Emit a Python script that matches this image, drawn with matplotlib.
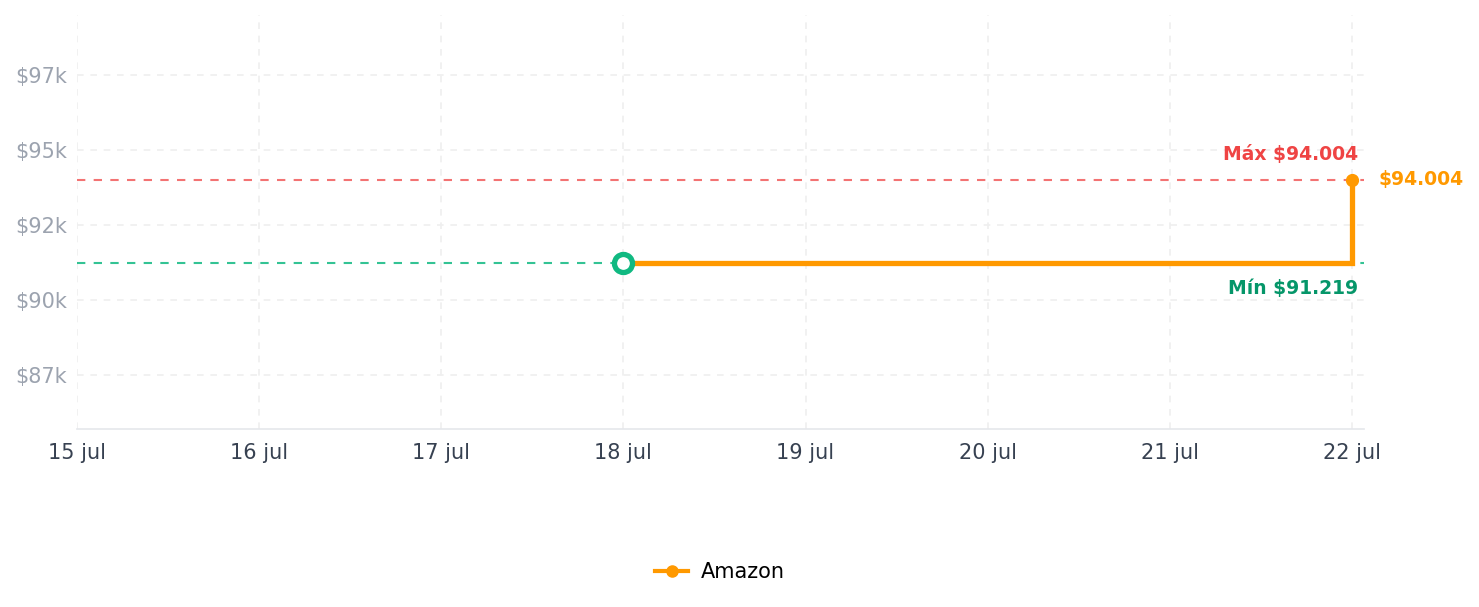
import matplotlib
matplotlib.use("Agg")
import matplotlib.pyplot as plt
import matplotlib.dates as mdates
import numpy as np
from datetime import datetime, timedelta

# Data
dates = [datetime(2024, 7, 18), datetime(2024, 7, 22)]
prices = [91219, 94004]
series_name = "Amazon"
max_price = 94004
min_price = 91219
y_ticks = [87500, 90000, 92500, 95000, 97500]
y_tick_labels = ["$87k", "$90k", "$92k", "$95k", "$97k"]
x_ticks = [datetime(2024, 7, d) for d in range(15, 23)]
x_tick_labels = [f"{d} jul" for d in range(15, 23)]

ORANGE = "#ff9900"
RED = "#ef4444"
GREEN = "#10b981"
GREEN_TXT = "#059669"

fig = plt.figure(figsize=(14.79, 6.07), dpi=100)
ax = fig.add_axes([77/1479, 1 - 429/607, (1364-77)/1479, (429-15)/607])

ax.set_xlim(datetime(2024, 7, 15), datetime(2024, 7, 22) + timedelta(days=0.066))
ax.set_ylim(85700, 99500)

ax.axhline(max_price, color=RED, alpha=0.75, lw=1.5, ls=(0, (4, 4)), zorder=2)
ax.axhline(min_price, color=GREEN, alpha=0.85, lw=1.5, ls=(0, (4, 4)), zorder=2)

ax.plot(dates, prices, drawstyle="steps-post", color=ORANGE, lw=3.8, zorder=3,
        solid_capstyle="butt", solid_joinstyle="miter")
ax.plot([dates[-1]], [prices[-1]], "o", color=ORANGE, ms=8.5, zorder=4)
ax.plot([dates[0]], [prices[0]], "o", mfc="white", mec=GREEN, mew=3.8, ms=13, zorder=5)
ax.plot([], [], "-o", color=ORANGE, lw=3, ms=8, label=series_name)

ax.annotate("$94.004", (dates[-1], prices[-1]), xytext=(27, 0), textcoords="offset pixels",
            color=ORANGE, fontsize=13.5, fontweight="bold", va="center", ha="left")
ax.annotate("Máx $94.004", (dates[-1], max_price), xytext=(6, 25), textcoords="offset pixels",
            color=RED, fontsize=13.5, fontweight="bold", va="center", ha="right")
ax.annotate("Mín $91.219", (dates[-1], min_price), xytext=(6, -25), textcoords="offset pixels",
            color=GREEN_TXT, fontsize=13.5, fontweight="bold", va="center", ha="right")

ax.set_yticks(y_ticks)
ax.set_yticklabels(y_tick_labels, color="#9ca3af", fontsize=15)
ax.set_xticks(x_ticks)
ax.set_xticklabels(x_tick_labels, color="#374151", fontsize=15)
ax.tick_params(length=0)
ax.tick_params(axis="x", pad=10)
ax.tick_params(axis="y", pad=7)

ax.grid(True, color="#efefef", ls=(0, (4, 4)), lw=1.2)
ax.set_axisbelow(True)
for s in ["top", "right", "left"]:
    ax.spines[s].set_visible(False)
ax.spines["bottom"].set_color("#e5e7eb")
ax.spines["bottom"].set_linewidth(1.2)

fig.legend(loc="center", bbox_to_anchor=(720/1479, 1 - 572/607), frameon=False,
           fontsize=15, handlelength=1.6, handletextpad=0.6)

fig.savefig("out.png", dpi=100, facecolor="white")
